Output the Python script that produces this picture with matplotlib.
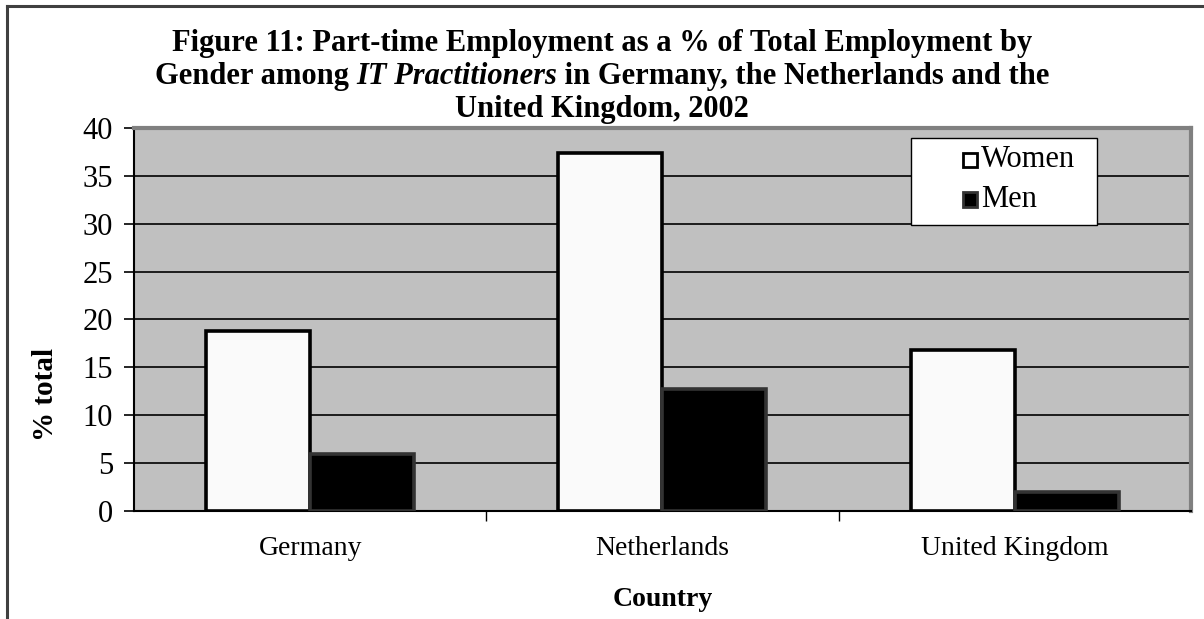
import numpy as np
import matplotlib
matplotlib.use('Agg')
import matplotlib.pyplot as plt
from matplotlib.lines import Line2D
from matplotlib.patches import Rectangle

# Part-time share of total employment, IT practitioners, 2002
countries = ['Germany', 'Netherlands', 'United Kingdom']
women = [18.8, 37.4, 16.8]
men = [6.0, 12.7, 2.0]
y_ticks = [0, 5, 10, 15, 20, 25, 30, 35, 40]

plt.rcParams['font.family'] = ['Liberation Serif', 'DejaVu Serif']

fig = plt.figure(figsize=(12.04, 6.19), dpi=100)
ax = fig.add_axes([0.1113, 0.1745, 0.8777, 0.6187])
ax.set_facecolor('#C0C0C0')

x = np.arange(len(countries))
w = 0.295
ax.bar(x - w / 2, women, width=w, color='#FAFAFA', edgecolor='black',
       linewidth=2.6, zorder=3)
ax.bar(x + w / 2, men, width=w, color='black', edgecolor='#333333',
       linewidth=2.6, zorder=3)

ax.set_xlim(-0.5, len(countries) - 0.5)
ax.set_ylim(0, 40)
ax.set_yticks(y_ticks)
ax.set_yticklabels([str(v) for v in y_ticks], fontsize=22)
ax.yaxis.grid(True, color='black', linewidth=1.2, zorder=1)
ax.set_axisbelow(True)

ax.set_xticks(x)
ax.set_xticklabels(countries, fontsize=20)
ax.set_xticks([0.5, 1.5], minor=True)
ax.tick_params(axis='x', which='major', length=0, pad=18)
ax.tick_params(axis='x', which='minor', length=7, width=1, direction='out')
ax.tick_params(axis='y', length=7, width=1.2, direction='out', pad=8)

for side in ['top', 'right']:
    ax.spines[side].set_color('#808080')
    ax.spines[side].set_linewidth(3)
ax.spines['left'].set_color('black')
ax.spines['left'].set_linewidth(1.5)
ax.spines['bottom'].set_color('black')
ax.spines['bottom'].set_linewidth(1.5)

fig.text(0.038, 0.362, '% total', rotation=90, ha='center', va='center',
         fontsize=21, fontweight='bold')
ax.set_xlabel('Country', fontsize=20, fontweight='bold', labelpad=19)

# three-line title; the middle line mixes upright and italic bold
t_size = 22
fig.text(0.5, 0.918, 'Figure 11: Part-time Employment as a % of Total Employment by',
         ha='center', va='baseline', fontsize=t_size, fontweight='bold')
fig.text(0.5, 0.811, 'United Kingdom, 2002',
         ha='center', va='baseline', fontsize=t_size, fontweight='bold')
parts = [('Gender among ', 'normal'), ('IT Practitioners', 'italic'),
         (' in Germany, the Netherlands and the', 'normal')]
renderer = fig.canvas.get_renderer()
pieces = []
for s, style in parts:
    t = fig.text(0, 0.864, s, ha='left', va='baseline', fontsize=t_size,
                 fontweight='bold', fontstyle=style)
    pieces.append(t)
widths = [p.get_window_extent(renderer).width / fig.bbox.width for p in pieces]
xpos = 0.5 - sum(widths) / 2
for p, wd in zip(pieces, widths):
    p.set_x(xpos)
    xpos += wd

# legend box with square keys
ax.add_patch(Rectangle((0.7353, 0.747), 0.176, 0.227, transform=ax.transAxes,
                       facecolor='white', edgecolor='black', linewidth=1,
                       zorder=5))
keys = [('Women', 'white', 'black'), ('Men', 'black', '#333333')]
for i, (name, fc, ec) in enumerate(keys):
    ky = 0.917 - i * 0.103
    ax.add_patch(Rectangle((0.7843, ky - 0.019), 0.0138, 0.037,
                           transform=ax.transAxes, facecolor=fc, edgecolor=ec,
                           linewidth=2, zorder=6))
    ax.text(0.8015, ky, name, transform=ax.transAxes, ha='left', va='center',
            fontsize=22, zorder=6)

# outer chart frame (top and left edges)
fig.add_artist(Line2D([0.006, 1.0], [0.990, 0.990], color='#404040', linewidth=2.2,
                      transform=fig.transFigure))
fig.add_artist(Line2D([0.006, 0.006], [0.0, 0.990], color='#404040', linewidth=2.2,
                      transform=fig.transFigure))

plt.savefig('out.png', dpi=100)
